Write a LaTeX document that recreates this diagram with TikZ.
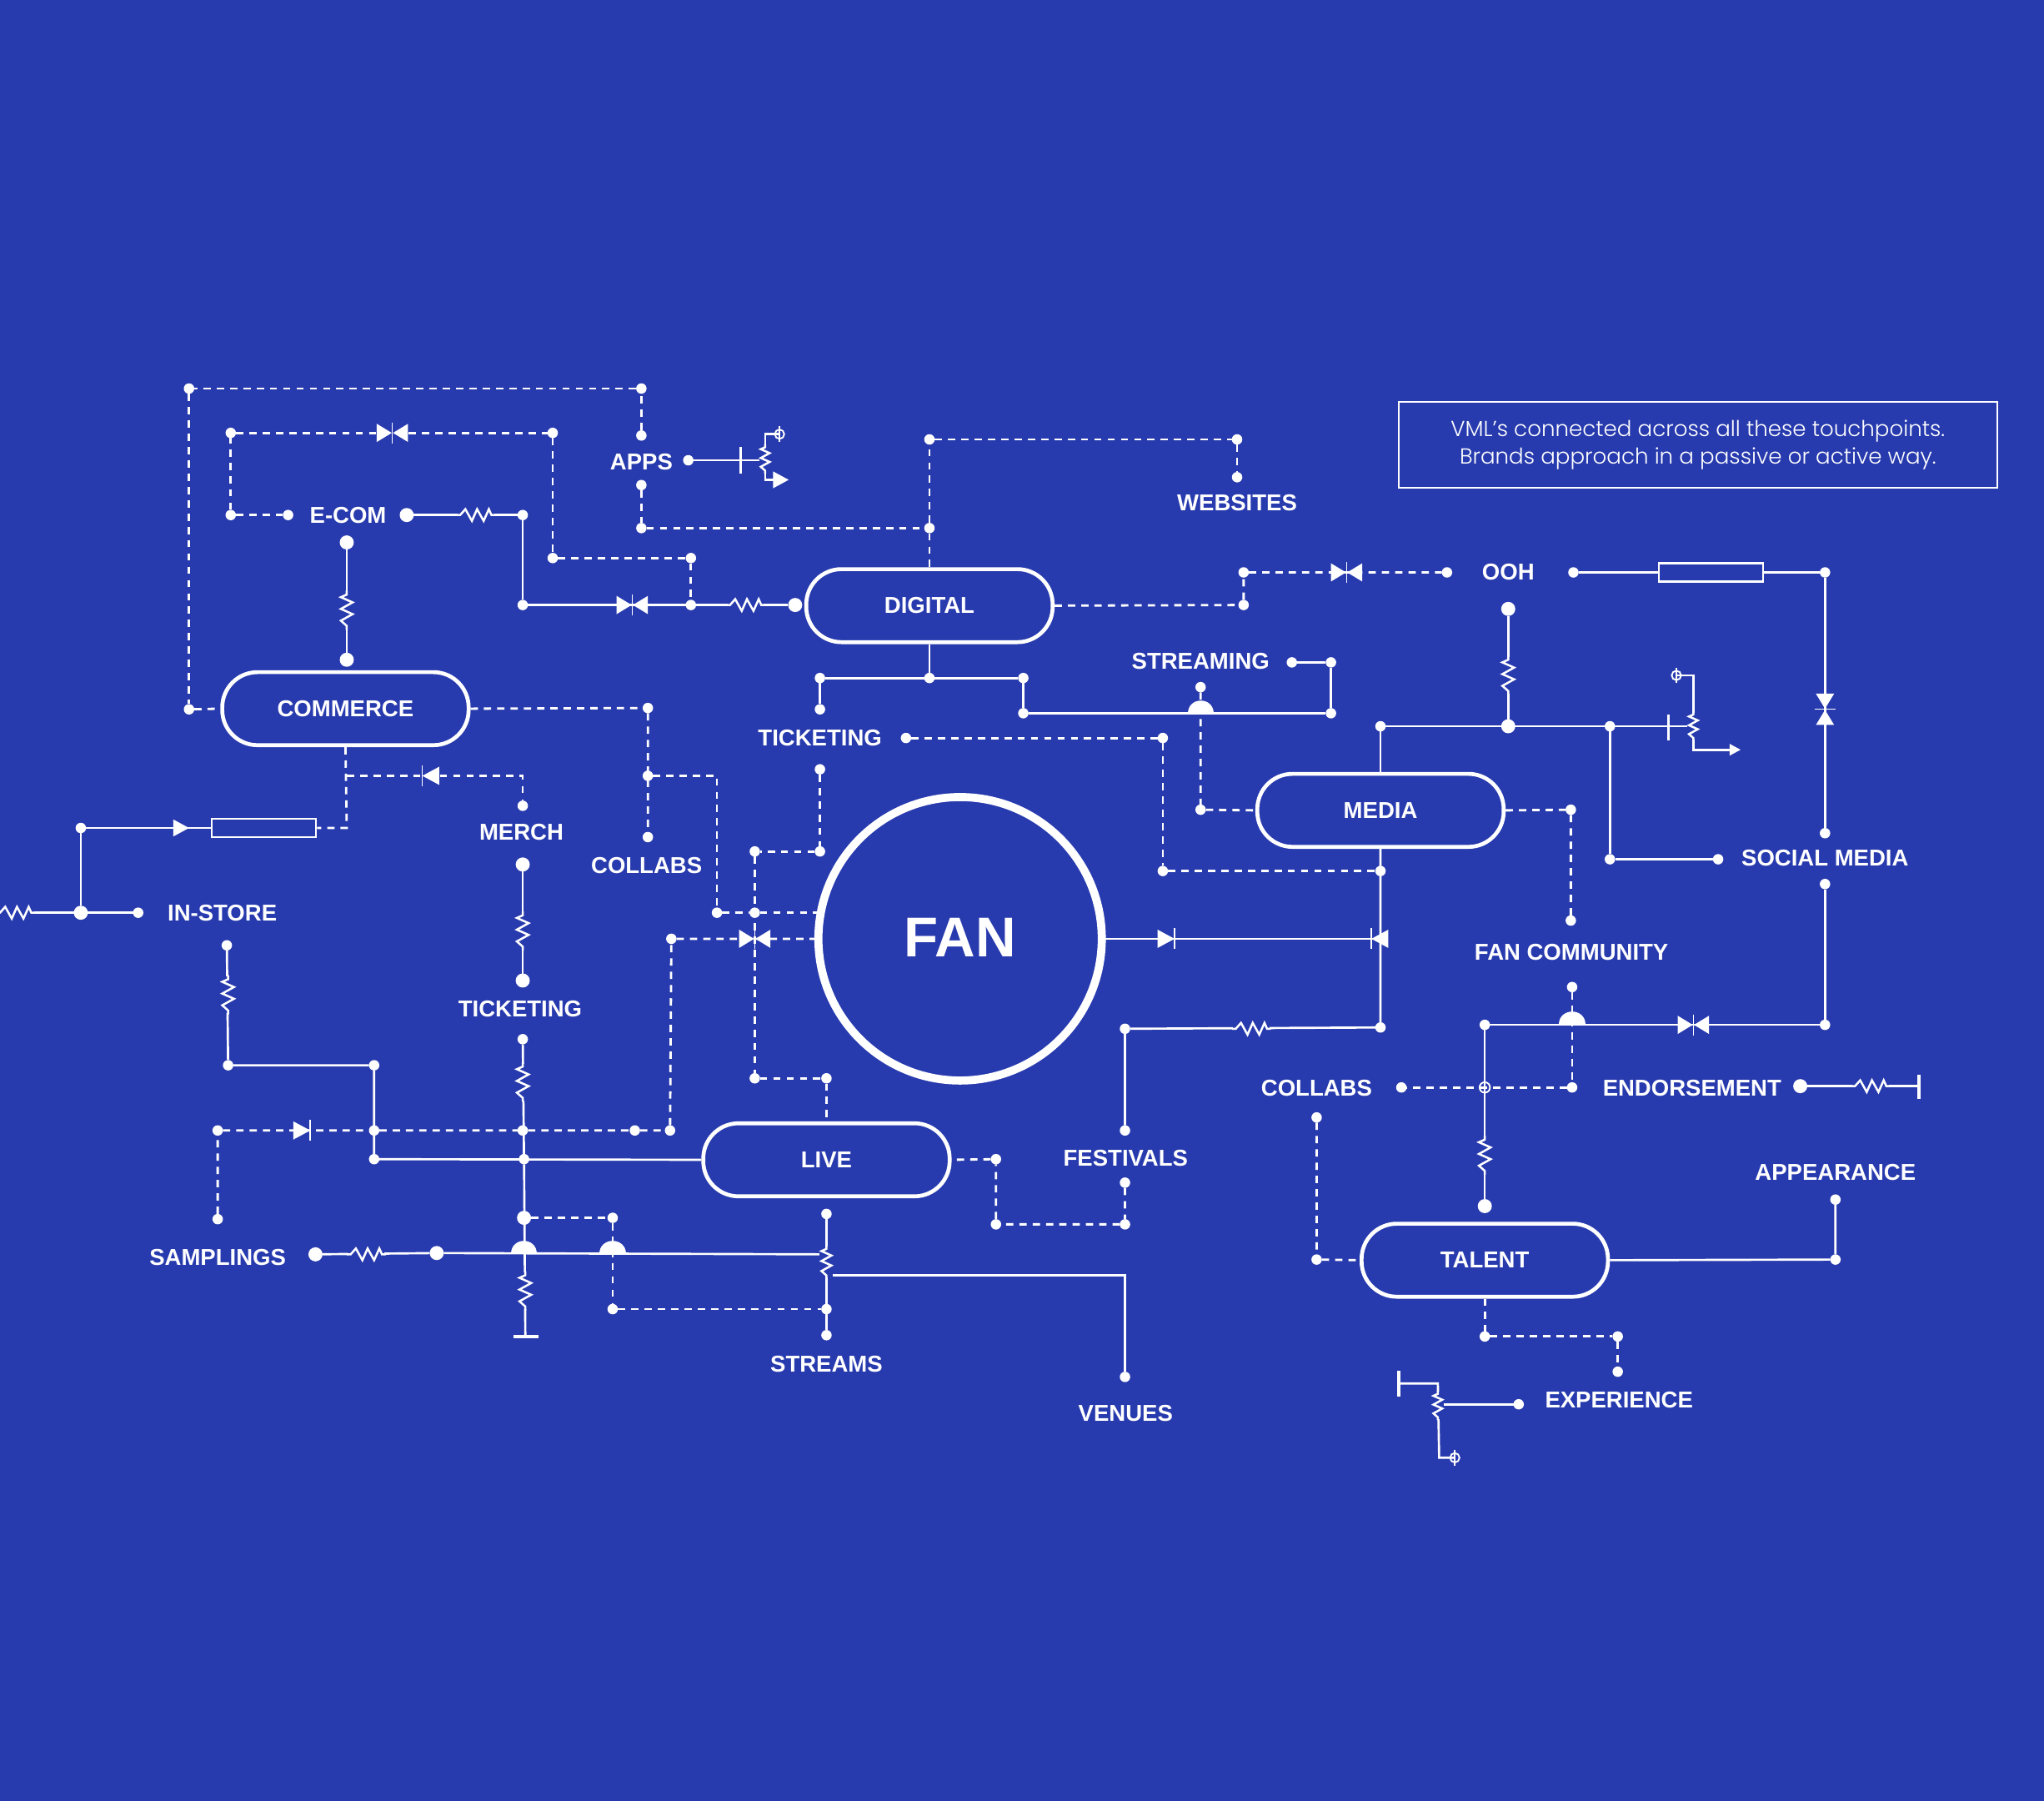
\documentclass[tikz,border=0pt]{standalone}
\usepackage{fontspec}
\setmainfont{Liberation Sans}
\newfontfamily\notefont{Poppins Light}
\definecolor{bluebg}{RGB}{40,59,174}
\pgfdeclarelayer{back}
\pgfdeclarelayer{conn}
\pgfsetlayers{back,conn,main}
\tikzset{
  dot/.style={circle,fill=white,inner sep=0pt,outer sep=0pt,minimum size=4pt},
  bigdot/.style={circle,fill=white,inner sep=0pt,outer sep=0pt,minimum size=5.4pt},
  sol/.style={draw=white,line width=.85pt,line join=miter},
  dsh/.style={draw=white,line width=.9pt,dash pattern=on 2.8pt off 2.3pt},
  pill/.style={draw=white,line width=1.5pt,fill=bluebg,rounded corners=13.5pt,minimum width=94.5pt,minimum height=28pt,inner sep=0pt,text=white,font=\bfseries\fontsize{8.8}{10}\selectfont},
  lab/.style={text=white,inner sep=0pt,font=\bfseries\fontsize{8.8}{10}\selectfont},
  rbox/.style={draw=white,line width=.7pt,fill=bluebg,minimum width=40pt,minimum height=7pt,inner sep=0pt},
  bar/.style={draw=white,line width=1.1pt},
  res/.pic={
    \fill[bluebg] (-14,-6) rectangle (14,6);
    \draw[white,line width=.8pt,line join=miter] (-15,0)--(-12,0)--(-8,-4.5)--(-3,4.5)--(1,-4.5)--(6,4.5)--(10,-4.5)--(12,0)--(15,0);
  },
  bowtie/.pic={
    \fill[white] (-12,-7)--(-.5,0)--(-12,7)--cycle;
    \fill[white] (12,-7)--(.5,0)--(12,7)--cycle;
    \draw[white,line width=.5pt] (0,-8)--(0,8);
  },
  diode/.pic={
    \fill[white] (-7,-7)--(6,0)--(-7,7)--cycle;
    \draw[white,line width=.5pt] (6,-8)--(6,8);
  },
  tri/.pic={\fill[white] (-6,-6.5)--(6,0)--(-6,6.5)--cycle;},
  dome/.pic={\fill[white] (-10,0) .. controls (-10,-13.5) and (10,-13.5) .. (10,0) -- cycle;},
  gnd/.pic={
    \draw[white,line width=.6pt] (0,0) circle (3.6);
    \draw[white,line width=.6pt] (0,-6)--(0,6);
  },
}
\begin{document}
\begin{tikzpicture}[x=.5pt,y=-.5pt]
\useasboundingbox (0,0) rectangle (1568,1381);
\begin{pgfonlayer}{back}
\fill[bluebg] (0,0) rectangle (1568,1381);
\end{pgfonlayer}

% main shapes
\node[pill] (commerce) at (265,543.5) {COMMERCE};
\node[pill] (digital) at (713,464.5) {DIGITAL};
\node[pill] (media) at (1059,621.5) {MEDIA};
\node[pill] (live) at (634,889.5) {LIVE};
\node[pill] (talent) at (1139,966.5) {TALENT};
\node[circle,draw=white,line width=3.1pt,fill=bluebg,minimum size=108.7pt,inner sep=0pt,outer sep=0pt,text=white,font=\bfseries\fontsize{21.5}{24}\selectfont] (fan) at (736.5,720) {\raisebox{1pt}{FAN}};
\node[draw=white,line width=.6pt,minimum width=229.5pt,minimum height=33pt,inner sep=0pt,align=center,text=white,font=\notefont\fontsize{8.35}{10.6}\selectfont] (note) at (1302.5,341) {\raisebox{-1pt}{VML’s connected across all these touchpoints.}\\\raisebox{-1pt}{Brands approach in a passive or active way.}};

% labels
\foreach \n/\x/\y/\t in {
 lapps/492/354/APPS, lecom/267/395/E-COM, lweb/949/385.5/WEBSITES, looh/1157/439/OOH,
 lstream/921/507/STREAMING, ltick/629/566/TICKETING, lsoc/1400/658/SOCIAL MEDIA,
 lfanc/1205.5/730.5/FAN COMMUNITY, lcol/496/664/COLLABS, lmerch/400/638.5/MERCH,
 lstore/170.5/700.5/IN-STORE, ltick2/399/774/TICKETING, lsamp/167/964.5/SAMPLINGS,
 lstreams/634/1046/STREAMS, lvenues/863.5/1084/VENUES, lfest/863.5/888.5/FESTIVALS,
 lcol2/1010/834.5/COLLABS, lend/1298/834.5/ENDORSEMENT, lappear/1408/899/APPEARANCE,
 lexp/1242/1074/EXPERIENCE}
 \node[lab] (\n) at (\x,\y) {\t};

% junction dots
\foreach \n/\x/\y in {
 a1/145/298, a2/492/298, a3/492/334, a4/145/544, e1/177/332, e2/424/332, e3/424/428, e4/530/428, e5/530/464,
 e6/177/395, e7/221/395, m1/401/395, m2/401/464, ap1/528/353, ap2/492/372, ap3/492/405, ap4/713/405, ap5/713/337,
 ap6/949/337, ap7/949/366, d1/954/464, d2/954/439, d3/1110/439, d4/1207/439, d5/1400/439, d6/1400/639, d7/1400/678,
 d8/1400/786, d9/1139/786, t1/629/520, t2/713/520, t3/785/520, t4/629/544, t5/785/547, t6/1021/547, t7/1021/508,
 t8/991/508, t9/921/527, t10/921/621, k1/695/566, k2/892/566, k3/892/668, k4/1059/668, k5/1059/788, k6/863/789,
 k7/863/867, k8/863/907, k9/863/939, k10/764/939, k11/764/889, n1/1059/557, n3/1235/557, n4/1235/659, n5/1318/659,
 f1/1205/621, f2/1205/706, f3/1206/757, f4/1206/834, f5/1075/834, c1/1010/857, c2/1010/966, p1/1408/966, p2/1408/920,
 x1/1139/1025, x2/1241/1025, x3/1241/1052, x4/1165/1077, cm1/497/543, cm2/497/642, cm3/497/595, cm4/550/700, cm5/579/700,
 i1/62/635, i2/106/700, mr1/401/618, o1/174/725, o2/175/817, o3/287/817, o4/287/867, o5/287/889, o6/401/867, o7/402/889,
 o8/167/867, o9/167/935, o10/487/867, o11/514/867, o12/515/720, l1/401/797, h1/470/934, h2/470/1004, h3/634/1004,
 s1/634/931, s2/634/1024, v1/863/1056, q1/579/653, q2/629/653, q3/629/590, q4/579/827, q5/634/827}
 \node[dot] (\n) at (\x,\y) {};
\foreach \n/\x/\y in {
 ec/312/395, dg/610/464, qa/266/416, qb/266/506, n2/1157/557, n6/1157/467, tc/1139/925, en/1381/833, i3/62/700,
 mb1/401/663, mb2/401/752, sa1/242/962, sa2/335/961, h0/402/934}
 \node[bigdot] (\n) at (\x,\y) {};

% resistor boxes and helpers
\node[rbox] (boxa) at (1312.5,439) {};
\node[rbox] (boxb) at (202.5,635) {};
\coordinate (edge) at (0,700);
\coordinate (ta) at (568,353); \coordinate (tb) at (587,353);
\coordinate (tc1) at (587,333); \coordinate (tc2) at (598,333);
\coordinate (tc3) at (587,368); \coordinate (tc4) at (597,368);
\coordinate (ua) at (1280,557); \coordinate (ub) at (1299,557);
\coordinate (uc1) at (1299,518); \coordinate (uc2) at (1286,518);
\coordinate (uc3) at (1299,575); \coordinate (uc4) at (1329,575);
\coordinate (wa) at (1103,1077); \coordinate (wc1) at (1103,1061); \coordinate (wc2) at (1073,1061);
\coordinate (wc3) at (1104,1118); \coordinate (wc4) at (1116,1118);
\coordinate (enb) at (1472,833);
\coordinate (lowgnd) at (403,1025);
\coordinate (sj) at (634,978); \coordinate (vj) at (863,978);
\coordinate (sm) at (634,962);
\coordinate (xo) at (1139,834);

\begin{pgfonlayer}{conn}
% dashed connectors
\draw[dsh] (a3)--(a2)--(a1)--(a4);
\draw[dsh] (a4)--(commerce.west);
\draw[dsh] (e6)--(e1)--(e2)--(e3)--(e4)--(e5);
\draw[dsh] (e6)--(e7);
\draw[dsh] (ap2)--(ap3)--(ap4)--(ap5)--(ap6)--(ap7);
\draw[dsh] (ap4)--(digital.north);
\draw[dsh] (digital.east)--(d1)--(d2)--(d3);
\draw[dsh] (t9)--(t10)--(media.west);
\draw[dsh] (k1)--(k2)--(k3)--(k4);
\draw[dsh] (media.east)--(f1)--(f2);
\draw[dsh] (f3)--(f4)--(f5);
\draw[dsh] (c1)--(c2)--(talent.west);
\draw[dsh] (talent.south)--(x1)--(x2)--(x3);
\draw[dsh] (commerce.east)--(cm1)--(cm2);
\draw[dsh] (cm3)--(550,595)--(cm4)--(cm5)--(fan.center |- cm5);
\draw[dsh] (commerce.south)--(266,635)--(boxb.east);
\draw[dsh] (266,595)--(401,595)--(mr1);
\draw[dsh] (o9)--(o8)--(o4)--(o6)--(o10)--(o11)--(o12)--(fan.center |- o12);
\draw[dsh] (h0)--(h1)--(h2)--(h3);
\draw[dsh] (q3)--(q2)--(q1)--(q4)--(q5)--(live.north);
\draw[dsh] (k8)--(k9)--(k10)--(k11)--(live.east);
% solid connectors
\draw[sol] (ec)--(m1)--(m2)--(e5)--(dg);
\draw[sol] (qa)--(qb);
\draw[sol] (ap1)--(tb);
\draw[sol] (tc2)--(tc1)--(tc3)--(tc4);
\draw[sol] (d4)--(boxa.west);
\draw[sol] (boxa.east)--(d5)--(d6);
\draw[sol] (d7)--(d8)--(d9)--(tc);
\draw[sol] (digital.south)--(t2);
\draw[sol] (t4)--(t1)--(t3)--(t5)--(t6)--(t7)--(t8);
\draw[sol] (media.south)--(k5)--(k6)--(k7);
\draw[sol] (fan.center)--(1059,720);
\draw[sol] (media.north)--(n1)--(ub);
\draw[sol] (uc2)--(uc1)--(uc3)--(uc4);
\draw[sol] (n6)--(n2);
\draw[sol] (n3)--(n4)--(n5);
\draw[sol] (en)--(enb);
\draw[sol] (talent.east)--(p1)--(p2);
\draw[sol] (x4)--(wa);
\draw[sol] (wc2)--(wc1)--(wc3)--(wc4);
\draw[sol] (boxb.west)--(i1)--(i3);
\draw[sol] (edge)--(i3)--(i2);
\draw[sol] (mb1)--(mb2);
\draw[sol] (l1)--(o7)--(lowgnd);
\draw[sol] (o1)--(o2)--(o3)--(o5)--(live.west);
\draw[sol] (sa1)--(sa2)--(sm);
\draw[sol] (s1)--(s2);
\draw[sol] (sj)--(vj)--(v1);
\end{pgfonlayer}

% resistors
\pic at (365,395) {res};
\pic at (572,464) {res};
\pic[rotate=90] at (266,468) {res};
\pic[rotate=90] at (1157,518) {res};
\pic at (1435,833) {res};
\pic[rotate=90] at (1139,886) {res};
\pic at (960,789) {res};
\pic at (12,700) {res};
\pic[rotate=90] at (401,714) {res};
\pic[rotate=90] at (401,830) {res};
\pic[rotate=90] at (175,763) {res};
\pic[rotate=90] at (403,990) {res};
\pic at (281,962) {res};
\pic[rotate=90,scale=.85] at (634,968) {res};
\pic[rotate=90,scale=.75] at (587,352) {res};
\pic[rotate=90,scale=.75] at (1299,557) {res};
\pic[rotate=90,scale=.75] at (1103,1078) {res};
% bowties and diodes
\pic at (301,332) {bowtie};
\pic at (485,464) {bowtie};
\pic at (1033,439) {bowtie};
\pic[rotate=90] at (1400,544) {bowtie};
\pic at (1299,786) {bowtie};
\pic at (579,720) {bowtie};
\pic[rotate=180] at (330,595) {diode};
\pic at (232,867) {diode};
\pic at (895,720) {diode};
\pic[rotate=180] at (1058,720) {diode};
\pic at (139,635) {tri};
\pic at (599,368) {tri};
\pic[scale=.7] at (1331,575) {tri};
% domes
\pic at (921,547.5) {dome};
\pic at (1206,786) {dome};
\pic at (402,962) {dome};
\pic at (470,962) {dome};
% terminal symbols
\pic at (598,333) {gnd};
\pic at (1286,518) {gnd};
\pic at (1116,1118) {gnd};
\draw[white,line width=.6pt] (xo) circle (4);
\draw[bar] (568,343)--(568,363);
\draw[bar] (1280,548)--(1280,568);
\draw[bar] (1073,1051)--(1073,1071);
\draw[bar] (1472,824)--(1472,843);
\draw[bar,line width=1.5pt] (394,1025)--(413,1025);
\end{tikzpicture}
\end{document}
